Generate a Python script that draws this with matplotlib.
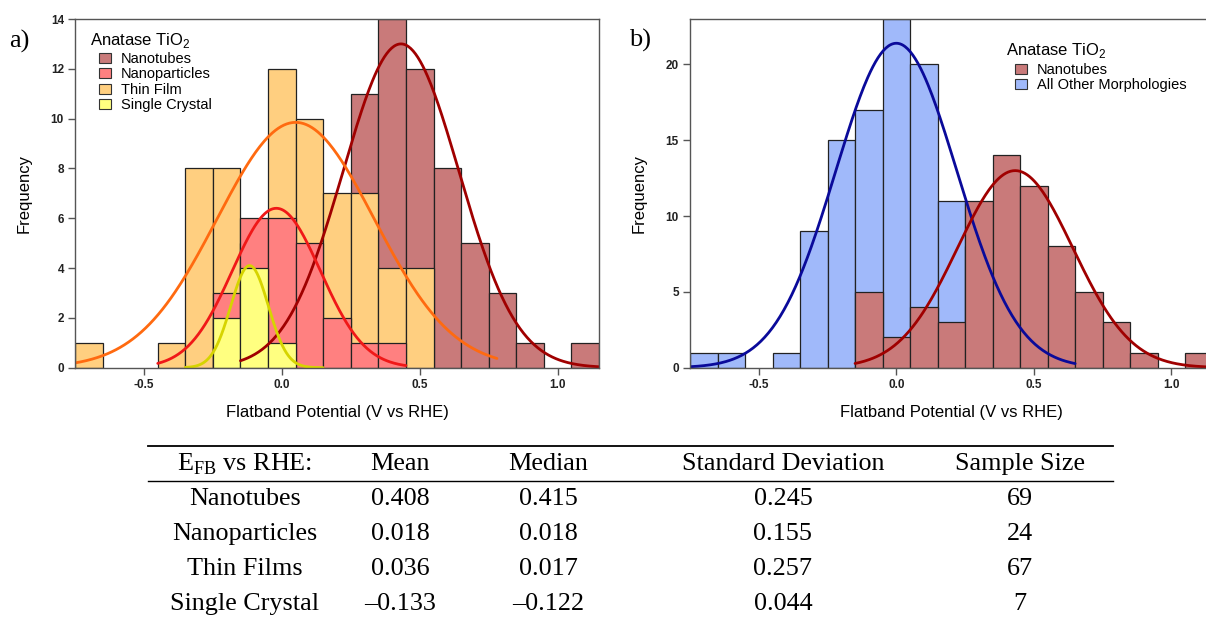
import matplotlib
matplotlib.use("Agg")
import matplotlib.pyplot as plt
import numpy as np
from matplotlib.patches import Patch

plt.rcParams["font.family"] = ["Liberation Sans", "DejaVu Sans"]

# histogram bins (left edges, width 0.1 V)
bin_left = [-0.75, -0.65, -0.55, -0.45, -0.35, -0.25, -0.15, -0.05, 0.05, 0.15,
            0.25, 0.35, 0.45, 0.55, 0.65, 0.75, 0.85, 0.95, 1.05]
bin_width = 0.1

nanotubes = [0, 0, 0, 0, 0, 0, 5, 2, 4, 3, 11, 14, 12, 8, 5, 3, 1, 0, 1]
nanoparticles = [0, 0, 0, 0, 0, 3, 6, 6, 5, 2, 1, 1, 0, 0, 0, 0, 0, 0, 0]
thin_film = [1, 0, 0, 1, 8, 8, 5, 12, 10, 7, 7, 4, 4, 0, 0, 0, 0, 0, 0]
single_crystal = [0, 0, 0, 0, 0, 2, 4, 1, 0, 0, 0, 0, 0, 0, 0, 0, 0, 0, 0]
other_morph = [1, 1, 0, 1, 9, 15, 17, 23, 20, 11, 8, 5, 4, 0, 0, 0, 0, 0, 0]

# gaussian fits: (peak, centre, sigma, x_start, x_end)
fit_nt = (13.0, 0.432, 0.21, -0.15, 1.15)
fit_tf = (9.85, 0.05, 0.285, -0.75, 0.78)
fit_np = (6.4, -0.02, 0.16, -0.45, 0.45)
fit_sc = (4.1, -0.117, 0.068, -0.35, 0.15)
fit_other = (21.4, 0.0, 0.22, -0.75, 0.65)

# table
table_header = ["E$_\\mathregular{FB}$ vs RHE:", "Mean", "Median", "Standard Deviation", "Sample Size"]
table_rows = ["Nanotubes", "Nanoparticles", "Thin Films", "Single Crystal"]
table_mean = ["0.408", "0.018", "0.036", "\u20130.133"]
table_median = ["0.415", "0.018", "0.017", "\u20130.122"]
table_sd = ["0.245", "0.155", "0.257", "0.044"]
table_n = ["69", "24", "67", "7"]

# colours
c_nt = "#c97a7a"
c_np = "#ff8080"
c_tf = "#ffcf80"
c_sc = "#ffff80"
c_other = "#a0b9fa"
l_nt = "#a00000"
l_np = "#f01818"
l_tf = "#ff6a10"
l_sc = "#d6d400"
l_other = "#0a0a9a"

W, H = 1206, 620
fig = plt.figure(figsize=(W / 100, H / 100), dpi=100)

centers = np.array(bin_left) + bin_width / 2


def bars(ax, counts, color):
    counts = np.array(counts, dtype=float)
    m = counts > 0
    ax.bar(centers[m], counts[m], width=bin_width, color=color,
           edgecolor="#222222", linewidth=0.9)


def gauss(ax, fit, color):
    a, x0, s, xa, xb = fit
    x = np.linspace(xa, xb, 300)
    ax.plot(x, a * np.exp(-(x - x0) ** 2 / (2 * s ** 2)), color=color, lw=2.0,
            solid_capstyle="round")


def style(ax, yticks):
    ax.set_xlim(-0.75, 1.15)
    ax.set_xticks([-0.5, 0.0, 0.5, 1.0])
    ax.set_xticklabels(["-0.5", "0.0", "0.5", "1.0"])
    ax.set_yticks(yticks)
    for sp in ax.spines.values():
        sp.set_color("#555555")
        sp.set_linewidth(1.0)
    ax.tick_params(direction="out", length=5, width=1, color="#555555",
                   labelsize=8.5, pad=3)
    for lab in ax.get_xticklabels() + ax.get_yticklabels():
        lab.set_fontweight("bold")
        lab.set_color("#222222")
    ax.set_xlabel("Flatband Potential (V vs RHE)", fontsize=12, labelpad=10)
    ax.set_ylabel("Frequency", fontsize=12, labelpad=14)


def legend(ax, x, y, colors, labels):
    # title placed separately so that the entries sit indented below it
    ax.text(x, y, "Anatase TiO$_\\mathregular{2}$", transform=ax.transAxes,
            fontsize=12, ha="left", va="center")
    hs = [Patch(facecolor=c, edgecolor="#333333", linewidth=0.8) for c in colors]
    ax.legend(hs, labels, loc="upper left",
              bbox_to_anchor=(x + 9 / 524, y - 12 / 348.7), frameon=False,
              fontsize=10.5, handlelength=0.8, handleheight=0.7,
              handletextpad=0.7, labelspacing=0.1, borderpad=0,
              borderaxespad=0)


# panel a
ax1 = fig.add_axes([75 / W, 1 - 367.7 / H, 524 / W, 348.7 / H])
bars(ax1, nanotubes, c_nt)
bars(ax1, thin_film, c_tf)
bars(ax1, nanoparticles, c_np)
bars(ax1, single_crystal, c_sc)
gauss(ax1, fit_nt, l_nt)
gauss(ax1, fit_tf, l_tf)
gauss(ax1, fit_np, l_np)
gauss(ax1, fit_sc, l_sc)
ax1.set_ylim(0, 14)
style(ax1, range(0, 15, 2))
legend(ax1, 15 / 524, 1 - 21 / 348.7, (c_nt, c_np, c_tf, c_sc),
       ["Nanotubes", "Nanoparticles", "Thin Film", "Single Crystal"])

# panel b
ax2 = fig.add_axes([690 / W, 1 - 367.7 / H, 522.7 / W, 348.7 / H])
bars(ax2, other_morph, c_other)
bars(ax2, nanotubes, c_nt)
gauss(ax2, fit_other, l_other)
gauss(ax2, fit_nt, l_nt)
ax2.set_ylim(0, 23)
style(ax2, range(0, 21, 5))
legend(ax2, 316 / 522.7, 1 - 32 / 348.7, (c_nt, c_other),
       ["Nanotubes", "All Other Morphologies"])

fig.text(9 / W, 1 - 41 / H, "a)", family="Liberation Serif", fontsize=19,
         va="center", ha="left")
fig.text(629 / W, 1 - 40 / H, "b)", family="Liberation Serif", fontsize=19,
         va="center", ha="left")

# table
axt = fig.add_axes([0, 0, 1, 1], zorder=-1)
axt.set_xlim(0, W)
axt.set_ylim(H, 0)
axt.axis("off")
col_x = [245, 400, 548, 783, 1020]
head_y = 464
row_y = [499, 534, 569, 604]
axt.plot([148, 1113], [446, 446], color="black", lw=1.3)
axt.plot([148, 1113], [481, 481], color="black", lw=1.0)
tkw = dict(family="Liberation Serif", fontsize=18.8, ha="center", va="center")
for x, t in zip(col_x, table_header):
    axt.text(x, head_y, t, **tkw)
for i, y in enumerate(row_y):
    vals = [table_rows[i], table_mean[i], table_median[i], table_sd[i], table_n[i]]
    for x, t in zip(col_x, vals):
        axt.text(x, y, t, **tkw)

fig.savefig("out.png", dpi=100)
